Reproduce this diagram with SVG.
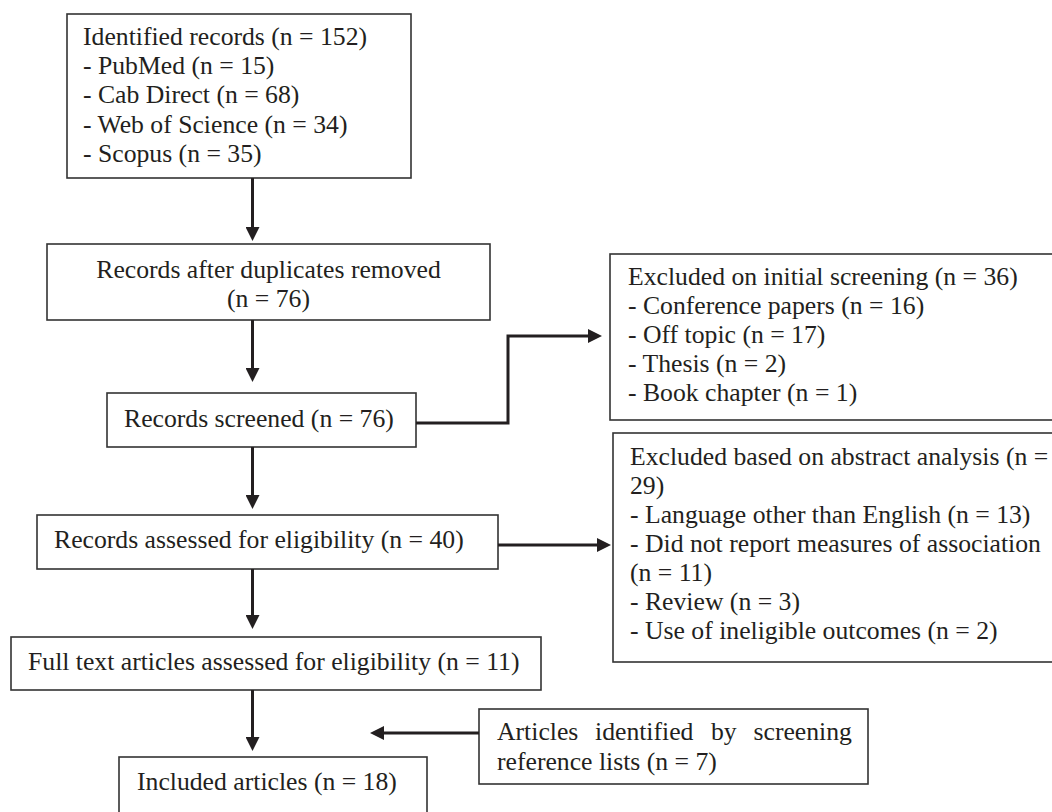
<svg xmlns="http://www.w3.org/2000/svg" width="1052" height="812" viewBox="0 0 1052 812">
<style>
.box{fill:#fff;stroke:#333;stroke-width:1.6}
.t{font-family:"Liberation Serif","Times New Roman",serif;font-size:25.7px;fill:#231f20}
.c{fill:none;stroke:#231f20;stroke-width:3}
</style>
<defs>
<marker id="ah" markerUnits="userSpaceOnUse" markerWidth="14" markerHeight="14" viewBox="0 0 13 13" refX="0" refY="6.5" orient="auto">
<path d="M0,0 L13,6.5 L0,13 z" fill="#231f20"/>
</marker>
</defs>
<rect width="1052" height="812" fill="#fff"/>
<g id="n1">
<rect class="box" x="67" y="14" width="344" height="164"/>
<text class="t" x="83" y="45">Identified records (n = 152)</text>
<text class="t" x="83" y="74">- PubMed (n = 15)</text>
<text class="t" x="83" y="103">- Cab Direct (n = 68)</text>
<text class="t" x="83" y="133">- Web of Science (n = 34)</text>
<text class="t" x="83" y="162">- Scopus (n = 35)</text>
</g>
<g id="n2">
<rect class="box" x="47" y="244" width="443" height="76"/>
<text class="t" x="268.5" y="278" text-anchor="middle">Records after duplicates removed</text>
<text class="t" x="268.5" y="307" text-anchor="middle">(n = 76)</text>
</g>
<g id="n3">
<rect class="box" x="107" y="393" width="309" height="54"/>
<text class="t" x="124" y="427">Records screened (n = 76)</text>
</g>
<g id="n4">
<rect class="box" x="610" y="254" width="460" height="166"/>
<text class="t" x="628" y="285">Excluded on initial screening (n = 36)</text>
<text class="t" x="628" y="314">- Conference papers (n = 16)</text>
<text class="t" x="628" y="343">- Off topic (n = 17)</text>
<text class="t" x="628" y="372">- Thesis (n = 2)</text>
<text class="t" x="628" y="401">- Book chapter (n = 1)</text>
</g>
<g id="n5">
<rect class="box" x="37" y="515" width="461" height="54"/>
<text class="t" x="54" y="548">Records assessed for eligibility (n = 40)</text>
</g>
<g id="n6">
<rect class="box" x="613" y="433" width="460" height="229"/>
<text class="t" x="630" y="465">Excluded based on abstract analysis (n =</text>
<text class="t" x="630" y="494">29)</text>
<text class="t" x="630" y="523">- Language other than English (n = 13)</text>
<text class="t" x="630" y="552">- Did not report measures of association</text>
<text class="t" x="630" y="581">(n = 11)</text>
<text class="t" x="630" y="610">- Review (n = 3)</text>
<text class="t" x="630" y="639">- Use of ineligible outcomes (n = 2)</text>
</g>
<g id="n7">
<rect class="box" x="11" y="637" width="530" height="53"/>
<text class="t" x="28" y="670">Full text articles assessed for eligibility (n = 11)</text>
</g>
<g id="n8">
<rect class="box" x="119" y="757" width="308" height="80"/>
<text class="t" x="137" y="790">Included articles (n = 18)</text>
</g>
<g id="n9">
<rect class="box" x="479" y="709" width="389" height="75"/>
<text class="t" y="740"><tspan x="497">Articles</tspan><tspan x="595">identified</tspan><tspan x="711">by</tspan><tspan x="753.5">screening</tspan></text>
<text class="t" x="497" y="770">reference lists (n = 7)</text>
</g>
<g id="connectors">
<line class="c" x1="252.5" y1="178" x2="252.5" y2="227" marker-end="url(#ah)"/>
<line class="c" x1="252.5" y1="320" x2="252.5" y2="368" marker-end="url(#ah)"/>
<polyline class="c" points="416,423 508,423 508,336 588,336" marker-end="url(#ah)"/>
<line class="c" x1="252.5" y1="447" x2="252.5" y2="495" marker-end="url(#ah)"/>
<line class="c" x1="498" y1="545" x2="597" y2="545" marker-end="url(#ah)"/>
<line class="c" x1="252.5" y1="569" x2="252.5" y2="615" marker-end="url(#ah)"/>
<line class="c" x1="252.5" y1="690" x2="252.5" y2="737" marker-end="url(#ah)"/>
<line class="c" x1="479" y1="733" x2="384" y2="733" marker-end="url(#ah)"/>
</g>
</svg>
